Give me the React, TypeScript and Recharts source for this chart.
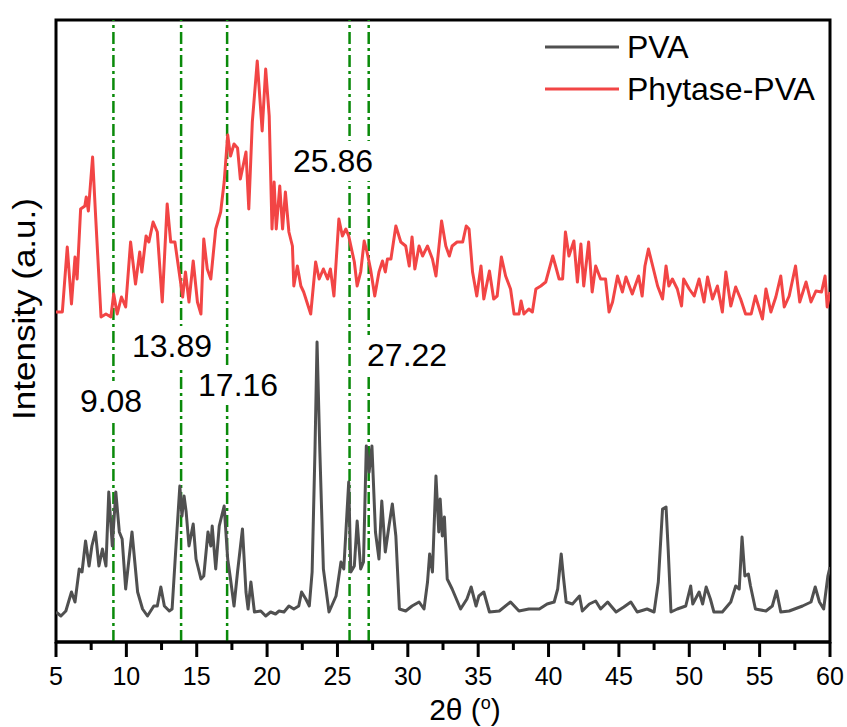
import React from 'react';
import { LineChart, Line, XAxis, YAxis, ReferenceLine, ReferenceDot, ReferenceArea, Legend } from 'recharts';

const FONT = '"Liberation Sans", Arial, Helvetica, sans-serif';

// PVA pattern (2θ in degrees, intensity a.u.)
const pvaTheta = [5.0, 5.35, 5.7, 6.1, 6.35, 6.65, 6.85, 7.1, 7.35, 7.55, 7.8, 8.05, 8.3, 8.55, 8.75, 9.0, 9.25, 9.5, 9.7, 9.95, 10.4, 10.8, 11.15, 11.5, 11.95, 12.2, 12.45, 12.7, 13.05, 13.25, 13.5, 13.8, 13.95, 14.1, 14.25, 14.45, 14.75, 14.95, 15.3, 15.5, 15.8, 16.0, 16.1, 16.35, 16.6, 16.95, 17.2, 17.4, 17.65, 17.9, 18.25, 18.5, 18.65, 18.85, 19.1, 19.55, 19.9, 20.25, 20.6, 20.85, 21.2, 21.55, 21.9, 22.25, 22.45, 22.75, 23.0, 23.2, 23.4, 23.55, 23.75, 24.0, 24.4, 24.9, 25.25, 25.45, 25.8, 25.95, 26.2, 26.4, 26.65, 26.85, 27.05, 27.25, 27.45, 27.7, 27.95, 28.15, 28.4, 28.65, 28.9, 29.15, 29.4, 29.85, 30.3, 30.8, 31.15, 31.4, 31.55, 31.75, 32.0, 32.2, 32.3, 32.45, 32.6, 32.8, 33.15, 33.75, 34.2, 34.5, 34.85, 35.05, 35.4, 35.8, 36.5, 37.3, 37.9, 38.6, 39.35, 39.9, 40.4, 40.65, 40.9, 41.05, 41.25, 41.7, 42.2, 42.4, 42.9, 43.35, 43.7, 44.2, 44.8, 45.35, 45.85, 46.3, 47.0, 47.5, 47.8, 48.1, 48.35, 48.5, 48.7, 49.15, 49.75, 50.1, 50.25, 50.7, 50.95, 51.2, 51.5, 51.75, 52.35, 52.95, 53.3, 53.55, 53.75, 53.95, 54.2, 54.35, 54.7, 55.45, 55.9, 56.2, 56.5, 57.1, 58.05, 58.65, 58.95, 59.25, 59.55, 59.85, 60.0];
const pvaIntensity = [30, 26, 31, 50, 40, 73, 70, 101, 76, 96, 110, 76, 93, 76, 150, 96, 150, 110, 103, 53, 110, 50, 33, 26, 36, 36, 55, 36, 31, 33, 90, 156, 126, 146, 130, 96, 118, 83, 63, 66, 110, 96, 116, 73, 116, 136, 83, 63, 36, 70, 113, 50, 33, 60, 30, 31, 26, 30, 28, 31, 30, 36, 33, 36, 50, 43, 36, 70, 190, 300, 190, 73, 30, 46, 80, 73, 160, 70, 76, 121, 73, 80, 196, 170, 196, 110, 83, 141, 90, 115, 138, 106, 33, 31, 36, 40, 33, 60, 88, 70, 166, 110, 143, 106, 125, 63, 53, 33, 43, 55, 36, 46, 50, 30, 31, 40, 31, 33, 33, 38, 40, 53, 88, 66, 40, 38, 46, 31, 38, 41, 33, 40, 30, 35, 40, 30, 33, 30, 60, 133, 135, 93, 30, 33, 36, 56, 38, 50, 38, 55, 43, 30, 30, 40, 56, 53, 105, 66, 68, 56, 33, 31, 36, 51, 30, 31, 36, 40, 55, 40, 33, 66, 75];

// Phytase-PVA pattern (offset trace)
const phyTheta = [5.0, 5.45, 5.8, 6.1, 6.35, 6.5, 6.75, 7.05, 7.15, 7.3, 7.6, 7.8, 8.2, 8.55, 8.9, 9.1, 9.35, 9.65, 9.95, 10.3, 10.65, 10.95, 11.1, 11.4, 11.6, 11.9, 12.2, 12.55, 12.9, 13.15, 13.45, 13.75, 14.0, 14.2, 14.45, 14.75, 15.05, 15.3, 15.5, 15.75, 16.0, 16.35, 16.7, 16.95, 17.2, 17.4, 17.65, 17.9, 18.1, 18.5, 18.7, 18.95, 19.3, 19.65, 19.9, 20.15, 20.35, 20.5, 20.65, 20.9, 21.1, 21.3, 21.55, 21.8, 21.9, 22.15, 22.4, 22.6, 23.1, 23.45, 23.7, 24.0, 24.3, 24.5, 24.75, 25.1, 25.35, 25.6, 25.8, 26.2, 26.4, 26.65, 26.9, 27.1, 27.35, 27.65, 27.95, 28.2, 28.4, 28.55, 28.8, 29.15, 29.5, 29.85, 30.1, 30.3, 30.5, 30.8, 31.05, 31.4, 31.75, 32.0, 32.4, 32.7, 32.95, 33.15, 33.5, 33.9, 34.15, 34.35, 34.6, 34.9, 35.2, 35.4, 35.8, 36.1, 36.35, 36.65, 36.95, 37.3, 37.55, 37.9, 38.05, 38.25, 38.6, 38.85, 39.1, 39.45, 39.8, 40.05, 40.3, 40.5, 40.75, 41.0, 41.2, 41.45, 41.8, 42.05, 42.3, 42.5, 42.85, 43.1, 43.35, 43.7, 44.05, 44.3, 44.55, 44.9, 45.25, 45.5, 45.95, 46.4, 46.65, 46.85, 47.1, 47.4, 47.75, 48.1, 48.35, 48.55, 48.8, 49.15, 49.45, 49.6, 50.0, 50.35, 50.7, 51.05, 51.3, 51.65, 52.0, 52.35, 52.6, 52.95, 53.3, 53.65, 54.0, 54.4, 54.7, 55.2, 55.45, 55.8, 56.15, 56.5, 56.75, 57.1, 57.55, 57.85, 58.3, 58.65, 59.0, 59.4, 59.65, 59.8, 60.0];
const phyIntensity = [330, 330, 395, 338, 385, 363, 433, 436, 445, 431, 485, 430, 325, 328, 325, 348, 328, 345, 335, 400, 358, 390, 370, 406, 400, 420, 410, 340, 438, 400, 400, 370, 345, 370, 340, 381, 340, 328, 403, 373, 363, 413, 430, 460, 507, 486, 498, 494, 463, 490, 433, 520, 581, 511, 573, 526, 413, 460, 413, 456, 413, 450, 410, 396, 356, 376, 356, 350, 328, 380, 363, 373, 363, 373, 346, 423, 406, 413, 406, 380, 356, 370, 401, 390, 373, 346, 370, 381, 370, 383, 383, 416, 400, 396, 376, 405, 373, 396, 386, 396, 383, 366, 421, 396, 386, 396, 400, 400, 416, 413, 370, 346, 376, 343, 371, 343, 346, 385, 366, 353, 328, 328, 341, 328, 333, 330, 353, 356, 360, 373, 386, 376, 363, 363, 410, 386, 401, 360, 398, 356, 400, 350, 376, 363, 363, 330, 340, 366, 350, 365, 348, 366, 346, 376, 393, 376, 356, 343, 376, 356, 363, 353, 336, 363, 353, 346, 363, 340, 365, 343, 356, 330, 370, 336, 355, 343, 328, 328, 346, 323, 353, 330, 345, 366, 335, 346, 376, 340, 360, 340, 351, 350, 366, 335, 350];

// Marked peaks
const peakPositions = [9.08, 13.89, 17.16, 25.86, 27.22];
const peakLabels = ['9.08', '13.89', '17.16', '25.86', '27.22'];
const labelTheta = [8.91, 13.24, 17.94, 24.69, 29.95];
const labelLevel = [241, 296, 257, 481, 287];

const xTicks = [5, 7.5, 10, 12.5, 15, 17.5, 20, 22.5, 25, 27.5, 30, 32.5, 35, 37.5, 40, 42.5, 45, 47.5, 50, 52.5, 55, 57.5, 60];
const seriesNames = ['PVA', 'Phytase-PVA'];
const seriesColors = ['#505050', '#f24545'];

const pvaData = pvaTheta.map((t, i) => ({ t, v: pvaIntensity[i] }));
const phyData = phyTheta.map((t, i) => ({ t, v: phyIntensity[i] }));
const labelData = peakLabels.map((text, i) => ({ text, t: labelTheta[i], v: labelLevel[i] }));

const AxisTick = (props: any) => {
  const { x, y, payload } = props;
  const val = payload.value;
  const major = Math.abs(val % 5) < 1e-6;
  return (
    <g>
      <line x1={x} x2={x} y1={y} y2={y + (major ? 15 : 8)} stroke="#000" strokeWidth={3} />
      {major && (
        <text x={x} y={y + 43} textAnchor="middle" fontSize={25} fontFamily={FONT} fill="#000">
          {val}
        </text>
      )}
    </g>
  );
};

// Axis titles, positioned from the x-axis box
const AxisTitles = (props: any) => {
  const vb = props.viewBox || {};
  const cx = vb.x + vb.width / 2 + 22;
  const y = vb.y + 78;
  const ycx = vb.x - 32;
  const ycy = vb.y - 333;
  return (
    <g>
      <text x={cx} y={y} textAnchor="middle" fontSize={30} fontFamily={FONT} fill="#000">
        2θ (<tspan fontSize={18} dy={-11}>o</tspan><tspan dy={11}>)</tspan>
      </text>
      <text x={ycx} y={ycy} textAnchor="middle" dominantBaseline="central" fontSize={31} fontFamily={FONT} fill="#000"
        textLength={222} lengthAdjust="spacingAndGlyphs"
        transform={`rotate(-90, ${ycx}, ${ycy})`}>
        Intensity (a.u.)
      </text>
    </g>
  );
};

const PeakLabel = (props: any) => {
  const { cx, cy, payload } = props;
  const text = payload ? payload.text : '';
  const w = text.length * 16 + 6;
  return (
    <g>
      <rect x={cx - w / 2} y={cy - 20} width={w} height={40} fill="#fff" />
      <text x={cx} y={cy} textAnchor="middle" dominantBaseline="central" fontSize={32} fontFamily={FONT} fill="#000">
        {text}
      </text>
    </g>
  );
};

const LegendBox = () => (
  <div style={{ fontFamily: FONT, fontSize: 32, color: '#000' }}>
    {seriesNames.map((n, i) => (
      <div key={n} style={{ display: 'flex', alignItems: 'center', height: 42 }}>
        <svg width={74} height={6} style={{ display: 'block' }}>
          <line x1={0} x2={74} y1={3} y2={3} stroke={seriesColors[i]} strokeWidth={3} />
        </svg>
        <span style={{ marginLeft: 8, lineHeight: '42px' }}>{n}</span>
      </div>
    ))}
  </div>
);

export default function App() {
  return (
    <div style={{ position: 'absolute', left: 0, top: 0, background: '#fff' }}>
      <LineChart width={847} height={727} margin={{ top: 20, right: 17, bottom: 0, left: 56 }}>
        <XAxis
          dataKey="t"
          type="number"
          domain={[5, 60]}
          ticks={xTicks}
          interval={0}
          allowDataOverflow
          height={85}
          tickLine={false}
          tickSize={0}
          tickMargin={0}
          tick={<AxisTick />}
          axisLine={{ stroke: '#000', strokeWidth: 3 }}
          label={<AxisTitles />}
        />
        <YAxis type="number" domain={[0, 622]} allowDataOverflow hide />
        <ReferenceArea x1={5} x2={60} y1={0} y2={622} fill="none" stroke="#000" strokeWidth={3} />
        {peakPositions.map((p) => (
          <ReferenceLine key={p} x={p} stroke="#0a8a0a" strokeWidth={2.5} strokeDasharray="12 4 3 4" />
        ))}
        <Line data={pvaData} dataKey="v" type="linear" stroke={seriesColors[0]} strokeWidth={3} strokeLinejoin="round" dot={false} isAnimationActive={false} name={seriesNames[0]} />
        <Line data={phyData} dataKey="v" type="linear" stroke={seriesColors[1]} strokeWidth={3} strokeLinejoin="round" dot={false} isAnimationActive={false} name={seriesNames[1]} />
        {labelData.map((d) => (
          <ReferenceDot key={d.text} x={d.t} y={d.v} r={0} shape={(p: any) => <PeakLabel {...p} payload={d} />} />
        ))}
        <Legend
          layout="vertical"
          align="center"
          verticalAlign="middle"
          wrapperStyle={{ left: 545, top: 26, width: 295, height: 84 }}
          content={() => <LegendBox />}
        />
      </LineChart>
    </div>
  );
}
